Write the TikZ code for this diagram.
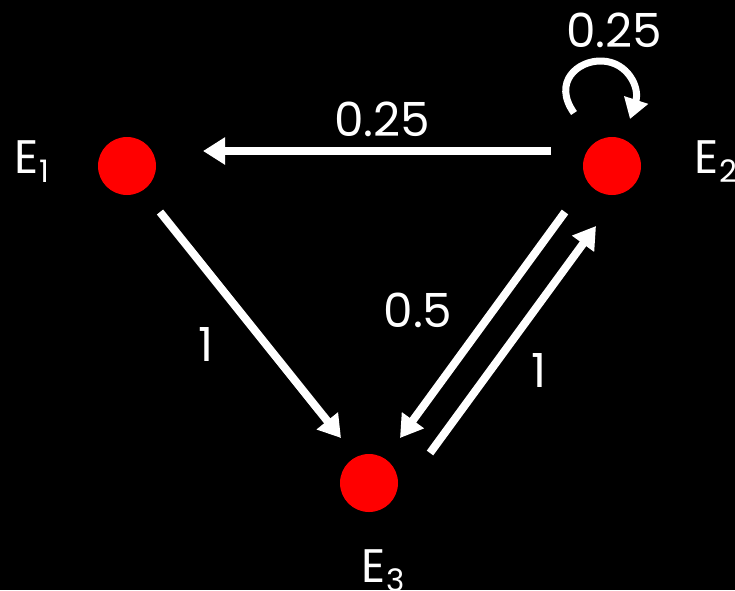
\documentclass[tikz,border=0pt]{standalone}
\usepackage{fontspec}
\setmainfont{Poppins}
\usetikzlibrary{arrows.meta}
\newcommand{\Elab}[1]{E\hspace{1pt}\raisebox{-9pt}{\fontsize{31}{31}\selectfont #1}}
\begin{document}
\begin{tikzpicture}[x=1pt,y=-1pt,
  state/.style={circle,fill=red,minimum size=58pt,inner sep=0pt},
  lbl/.style={text=white,inner sep=0pt,font=\fontsize{47}{47}\selectfont},
  conn/.style={draw=white,line width=8pt,-{Triangle[length=22pt,width=26pt]}}]
\fill[black] (0,0) rectangle (735,590);
\useasboundingbox (0,0) rectangle (735,590);
\node[state] (E1) at (127,166) {};
\node[state] (E2) at (612,166) {};
\node[state] (E3) at (369,483) {};
\node[lbl,anchor=base west] (L1) at (14,173) {\Elab{1}};
\node[lbl,anchor=base west] (L2) at (694,173) {\Elab{2}};
\node[lbl,anchor=base west] (L3) at (361,582) {\Elab{3}};
\coordinate (a1) at (551,151);
\coordinate (b1) at (203,151);
\coordinate (a2) at (160,212);
\coordinate (b2) at (341,438);
\coordinate (a3) at (565,212);
\coordinate (b3) at (400,438);
\coordinate (a4) at (430,453);
\coordinate (b4) at (596,226);
\coordinate (a5) at (574,113);
\coordinate (b5) at (630,119);
\draw[conn] (a1) -- (b1);
\draw[conn] (a2) -- (b2);
\draw[conn] (a3) -- (b3);
\draw[conn] (a4) -- (b4);
\draw[draw=white,line width=7pt,-{Triangle[length=20pt,width=24pt]}] (a5) .. controls (552,82) and (578,60) .. (602,61) .. controls (628,62) and (640,88) .. (b5);
\node[lbl] (t1) at (614,30) {0.25};
\node[lbl] (t2) at (382,119) {0.25};
\node[lbl] (t3) at (418,310) {0.5};
\node[lbl] (t4) at (539,370) {1};
\node[lbl] (t5) at (206,344) {1};
\end{tikzpicture}
\end{document}
